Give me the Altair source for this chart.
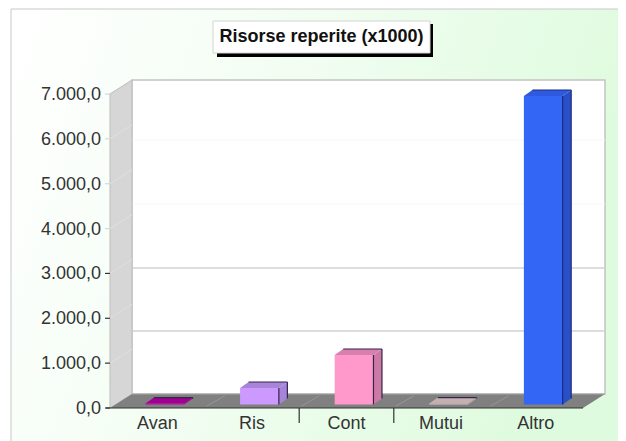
import altair as alt
import pandas as pd

# ---- chart values ----
categories = ["Avan", "Ris", "Cont", "Mutui", "Altro"]
values = [20, 368, 1103, 20, 6877]
front_colors = ["#c000a8", "#cc99ff", "#ff99cc", "#d8c4c4", "#3366f5"]
top_colors = ["#a00090", "#a884d8", "#d87fae", "#c4b0b0", "#2f5ae0"]
side_colors = ["#a00090", "#a884d8", "#cc79a6", "#c4b0b0", "#2a50c8"]
y_ticks = [0, 1000, 2000, 3000, 4000, 5000, 6000, 7000]
y_labels = ["0,0", "1.000,0", "2.000,0", "3.000,0", "4.000,0", "5.000,0", "6.000,0", "7.000,0"]
tick_colors = ["#333333", "#333333", "#333333", "#333333", "#d8d8d8", "#d8d8d8", "#d8d8d8", "#d8d8d8"]
wall_lines = [1716, 3121]
faint_lines = [4547, 5974]
separators = [2, 3]
title_text = "Risorse reperite (x1000)"

# ---- scale calibration: category units / value units ----
W, H = 610, 433
PX_CAT, PX_K = 94.6, 44.86
X0, Y0 = 110, 408


def ux(px):
    return (px - X0) / PX_CAT


def uy(py):
    return (Y0 - py) / PX_K * 1000


DX, DY = ux(132), uy(394)
BAR_L, BAR_W, BAR_DX, BAR_DY, BAR_BASE = 0.375, 0.41, 0.09, 134, 78
n = len(categories)

xs = alt.Scale(domain=[ux(8), ux(8 + W)], nice=False, zero=False)
ys = alt.Scale(domain=[uy(8 + H), uy(8)], nice=False, zero=False)
X = lambda f="x", **k: alt.X(f"{f}:Q", scale=xs, axis=None, **k)
Y = lambda f="y", **k: alt.Y(f"{f}:Q", scale=ys, axis=None, **k)


def rect(x, x2, y, y2, **mk):
    d = pd.DataFrame([{"x": x, "x2": x2, "y": y, "y2": y2}])
    return alt.Chart(d).mark_rect(**mk).encode(X(), x2="x2:Q", y=Y(), y2="y2:Q")


def hrule(yvals, x, x2, **mk):
    d = pd.DataFrame({"y": yvals, "x": x, "x2": x2})
    return alt.Chart(d).mark_rule(**mk).encode(X(), x2="x2:Q", y=Y())


bg = rect(ux(11), ux(8 + W + 2), uy(8 + H + 2), uy(9),
          fill=alt.Gradient(gradient="linear", x1=0, x2=1, y1=0, y2=0.25,
                            stops=[alt.GradientStop(offset=0, color="#ffffff"),
                                   alt.GradientStop(offset=0.35, color="#f6fef6"),
                                   alt.GradientStop(offset=1, color="#dffbdf")]),
          stroke="#c8c8c8", strokeWidth=1)
shadow = rect(ux(217), ux(433), uy(57), uy(24), fill="#000000")
box = rect(ux(213), ux(430), uy(53), uy(21), fill="#ffffff", stroke="#d4d4d4", strokeWidth=1)
title = alt.Chart(pd.DataFrame([{"x": ux(321.5), "y": uy(37), "t": title_text}])).mark_text(
    font="Liberation Sans", fontSize=18, fontWeight="bold", color="#111111",
    align="center", baseline="middle").encode(X(), Y(), text="t:N")

back = rect(DX, n + DX, DY, 7000 + DY, fill="#ffffff", stroke="#c4c4c4", strokeWidth=1.5)

lines = hrule(wall_lines, DX, n + DX, color="#d2d2d2", strokeWidth=1.5)
faint = hrule(faint_lines, DX, n + DX, color="#f6f6f6", strokeWidth=1)

side = alt.Chart(pd.DataFrame({"x": [0, DX], "y": [0, DY], "y2": [7000, 7000 + DY]})).mark_area(
    fill="#d6d6d6", stroke="#bdbdbd", strokeWidth=1, interpolate="linear").encode(X(), Y(), y2="y2:Q")

side_rows = []
for t in y_ticks[1:-1]:
    side_rows += [{"k": t, "x": 0, "y": t}, {"k": t, "x": DX, "y": t + DY}]
side_grid = alt.Chart(pd.DataFrame(side_rows)).mark_line(color="#e0e0e0", strokeWidth=1).encode(
    X(), Y(), detail="k:N")

floor = alt.Chart(pd.DataFrame({"x": [0, DX, n, n + DX], "y": [0, 0, 0, DY], "y2": [0, DY, DY, DY]})).mark_area(
    fill="#808080", interpolate="linear").encode(X(), Y(), y2="y2:Q")
floor_edge = hrule([DY], DX, n + DX, color="#a8a8a8", strokeWidth=1)
floor_rows = []
for i in range(1, n):
    floor_rows += [{"k": i, "x": i + 0.02, "y": 40}, {"k": i, "x": i + DX - 0.02, "y": DY - 40}]
floor_grid = alt.Chart(pd.DataFrame(floor_rows)).mark_line(color="#969696", strokeWidth=1).encode(
    X(), Y(), detail="k:N")

# bars: front, top and side faces derived from the values
fronts, faces, edges = [], [], []
for i, (c, v) in enumerate(zip(categories, values)):
    l, r = i + BAR_L, i + BAR_L + BAR_W
    b, t = BAR_BASE, BAR_BASE + v
    fronts.append({"cat": c, "x": l, "x2": r, "y": b, "y2": t, "col": front_colors[i]})
    for x, y, y2 in [(l, t, t), (l + BAR_DX, t, t + BAR_DY), (r, t, t + BAR_DY), (r + BAR_DX, t + BAR_DY, t + BAR_DY)]:
        faces.append({"k": f"{c}-top", "x": x, "y": y, "y2": y2, "col": top_colors[i]})
    for x, y, y2 in [(r, b, t), (r + BAR_DX, b + BAR_DY, t + BAR_DY)]:
        faces.append({"k": f"{c}-side", "x": x, "y": y, "y2": y2, "col": side_colors[i]})
    edge_col = "#1a2a80" if c == "Altro" else "#33264d"
    for k, pts in {
        "back": [(l + BAR_DX, t + BAR_DY), (r + BAR_DX, t + BAR_DY)],
        "right": [(r + BAR_DX, t + BAR_DY), (r + BAR_DX, b + BAR_DY)],
        "mid": [(r, t), (r, b)],
    }.items():
        if k == "mid" and c in ("Avan", "Mutui"):
            continue
        for x, y in pts:
            edges.append({"k": f"{c}-{k}", "x": x, "y": y, "col": edge_col})

front = alt.Chart(pd.DataFrame(fronts)).mark_rect().encode(
    X(), x2="x2:Q", y=Y(), y2="y2:Q", fill=alt.Fill("col:N", scale=None))
face = alt.Chart(pd.DataFrame(faces)).mark_area(interpolate="linear").encode(
    X(), Y(), y2="y2:Q", fill=alt.Fill("col:N", scale=None), detail="k:N")
edge = alt.Chart(pd.DataFrame(edges)).mark_line(strokeWidth=1.2, interpolate="linear").encode(
    X(), Y(), detail="k:N", color=alt.Color("col:N", scale=None))

baseline = hrule([0], ux(106), n, color="#333333", strokeWidth=1.2)
seps = alt.Chart(pd.DataFrame({"x": separators, "y": 0, "y2": uy(423)})).mark_rule(
    color="#333333", strokeWidth=1.2).encode(X(), y=Y(), y2="y2:Q")
yticks = alt.Chart(pd.DataFrame({"y": y_ticks, "c": tick_colors, "x": ux(105), "x2": 0})).mark_rule(
    strokeWidth=1.2).encode(X(), x2="x2:Q", y=Y(), color=alt.Color("c:N", scale=None))

ylab = alt.Chart(pd.DataFrame({"y": y_ticks, "t": y_labels, "x": 0})).mark_text(
    font="Liberation Sans", fontSize=18, color="#333333", align="right", baseline="middle", dx=-9, dy=1
).encode(X(), Y(), text="t:N")
xlab = alt.Chart(pd.DataFrame({"x": [i + 0.5 for i in range(n)], "y": 0, "t": categories})).mark_text(
    font="Liberation Sans", fontSize=18, color="#333333", align="center", baseline="middle", dy=16
).encode(X(), Y(), text="t:N")

chart = alt.layer(
    bg, shadow, box, title, back, faint, lines, side, side_grid, floor, floor_edge, floor_grid,
    face, front, edge, baseline, seps, yticks, ylab, xlab,
).properties(
    width=W, height=H, padding=0, background="#ffffff",
    autosize=alt.AutoSizeParams(type="none"),
).configure_view(stroke=None)

chart.save("out.html", embed_options={"renderer": "svg", "actions": False})
